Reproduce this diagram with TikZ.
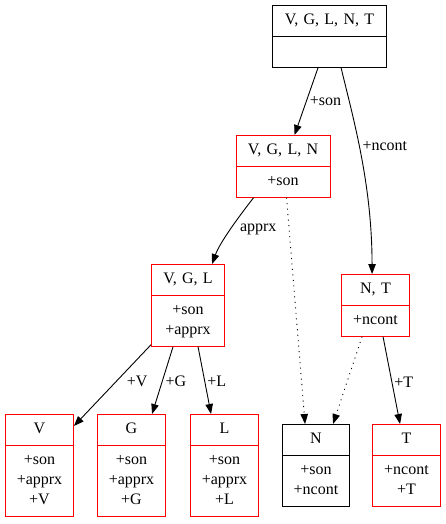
\documentclass[tikz,border=0pt]{standalone}
\usepackage{fontspec}
\setmainfont{Liberation Serif}
\usetikzlibrary{shapes.multipart,arrows.meta}

\begin{document}
\begin{tikzpicture}[x=1pt,y=-1pt,line width=.9pt,
    font=\fontsize{16}{20}\selectfont,
    >={Triangle[length=10pt,width=7.5pt]},
    cls/.style={rectangle split,rectangle split parts=2,draw,
      inner xsep=0pt,inner ysep=5pt,align=center,anchor=north},
    redcls/.style={cls,draw=red},
    lbl/.style={inner sep=1pt},
    dots/.style={dash pattern=on 1pt off 4.5pt}]
  \useasboundingbox (0,0) rectangle (446,524);
  % classes
  \node[cls,text width=114pt] (vglnt) at (329.5,5)
    {\strut V, G, L, N, T\nodepart{two}\strut};
  \node[redcls,text width=94pt] (vgln) at (283,135)
    {\strut V, G, L, N\nodepart{two}\strut +son};
  \node[redcls,text width=73pt] (vgl) at (188,264)
    {\strut V, G, L\nodepart{two}\strut +son\\\strut +apprx};
  \node[redcls,text width=68pt] (nt) at (375.5,274)
    {\strut N, T\nodepart{two}\strut +ncont};
  \node[redcls,text width=68pt] (v) at (39.5,414)
    {\strut V\nodepart{two}\strut +son\\\strut +apprx\\\strut +V};
  \node[redcls,text width=68pt] (g) at (131.5,414)
    {\strut G\nodepart{two}\strut +son\\\strut +apprx\\\strut +G};
  \node[redcls,text width=68pt] (l) at (224.5,414)
    {\strut L\nodepart{two}\strut +son\\\strut +apprx\\\strut +L};
  \node[cls,text width=67pt] (n) at (316,424)
    {\strut N\nodepart{two}\strut +son\\\strut +ncont};
  \node[redcls,text width=68pt] (t) at (406.5,424)
    {\strut T\nodepart{two}\strut +ncont\\\strut +T};
  % links
  \draw[->] ([xshift=46pt]vglnt.south west) -- ([xshift=59pt]vgln.north west)
    node[lbl,midway,right=2pt]{+son};
  \draw[->] ([xshift=69pt]vglnt.south west)
    .. controls +(12,50) and +(0,-90) .. ([xshift=31pt]nt.north west)
    node[lbl,pos=.45,right=2pt]{+ncont};
  \draw[->] ([xshift=18pt]vgln.south west)
    .. controls +(-14,18) and +(8,-22) .. ([xshift=61pt]vgl.north west)
    node[lbl,pos=.5,right=8pt]{apprx};
  \draw[->,dots] ([xshift=51pt]vgln.south west) -- ([xshift=23pt]n.north west);
  \draw[->,dots] ([xshift=21pt]nt.south west) -- ([xshift=51pt]n.north west);
  \draw[->] ([xshift=42pt]nt.south west) -- ([xshift=28pt]t.north west)
    node[lbl,pos=.52,right=1pt]{+T};
  \draw[->] ([yshift=2pt]vgl.south west) -- ([yshift=-12pt]v.north east)
    node[lbl,pos=.45,right=9pt]{+V};
  \draw[->] ([xshift=22pt]vgl.south west) -- ([xshift=55pt]g.north west)
    node[lbl,pos=.52,right=2pt]{+G};
  \draw[->] ([xshift=47pt]vgl.south west) -- ([xshift=21pt]l.north west)
    node[lbl,pos=.52,right=1pt]{+L};
\end{tikzpicture}
\end{document}
